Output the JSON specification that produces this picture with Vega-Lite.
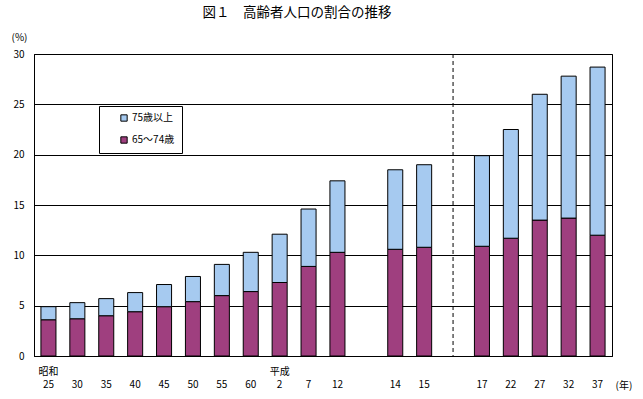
{
  "$schema": "https://vega.github.io/schema/vega-lite/v6.json",
  "width": 578,
  "height": 302,
  "autosize": "none",
  "padding": {"left": 34, "top": 54, "right": 31, "bottom": 43},
  "background": "white",
  "title": {
    "text": "図１　高齢者人口の割合の推移",
    "font": "Noto Sans CJK JP",
    "fontSize": 13.5,
    "fontWeight": "normal",
    "color": "black",
    "anchor": "middle",
    "dx": -26,
    "dy": -9
  },
  "config": {
    "font": "Noto Sans CJK JP",
    "view": {"stroke": "black", "strokeWidth": 1}
  },
  "datasets": {
    "bars": [
      {"year": "25", "group": "65～74歳", "value": 3.6},
      {"year": "25", "group": "75歳以上", "value": 1.3},
      {"year": "30", "group": "65～74歳", "value": 3.7},
      {"year": "30", "group": "75歳以上", "value": 1.6},
      {"year": "35", "group": "65～74歳", "value": 4.0},
      {"year": "35", "group": "75歳以上", "value": 1.7},
      {"year": "40", "group": "65～74歳", "value": 4.4},
      {"year": "40", "group": "75歳以上", "value": 1.9},
      {"year": "45", "group": "65～74歳", "value": 4.9},
      {"year": "45", "group": "75歳以上", "value": 2.2},
      {"year": "50", "group": "65～74歳", "value": 5.4},
      {"year": "50", "group": "75歳以上", "value": 2.5},
      {"year": "55", "group": "65～74歳", "value": 6.0},
      {"year": "55", "group": "75歳以上", "value": 3.1},
      {"year": "60", "group": "65～74歳", "value": 6.4},
      {"year": "60", "group": "75歳以上", "value": 3.9},
      {"year": "2", "group": "65～74歳", "value": 7.3},
      {"year": "2", "group": "75歳以上", "value": 4.8},
      {"year": "7", "group": "65～74歳", "value": 8.9},
      {"year": "7", "group": "75歳以上", "value": 5.7},
      {"year": "12", "group": "65～74歳", "value": 10.3},
      {"year": "12", "group": "75歳以上", "value": 7.1},
      {"year": "14", "group": "65～74歳", "value": 10.6},
      {"year": "14", "group": "75歳以上", "value": 7.9},
      {"year": "15", "group": "65～74歳", "value": 10.8},
      {"year": "15", "group": "75歳以上", "value": 8.2},
      {"year": "17", "group": "65～74歳", "value": 10.9},
      {"year": "17", "group": "75歳以上", "value": 9.0},
      {"year": "22", "group": "65～74歳", "value": 11.7},
      {"year": "22", "group": "75歳以上", "value": 10.8},
      {"year": "27", "group": "65～74歳", "value": 13.5},
      {"year": "27", "group": "75歳以上", "value": 12.5},
      {"year": "32", "group": "65～74歳", "value": 13.7},
      {"year": "32", "group": "75歳以上", "value": 14.1},
      {"year": "37", "group": "65～74歳", "value": 12.0},
      {"year": "37", "group": "75歳以上", "value": 16.7}
    ],
    "divider": [{"year": "gapB"}]
  },
  "layer": [
    {
      "data": {"name": "bars"},
      "mark": {"type": "bar", "stroke": "black", "strokeWidth": 1},
      "encoding": {
        "x": {
          "field": "year",
          "type": "nominal",
          "sort": null,
          "scale": {
            "domain": ["25", "30", "35", "40", "45", "50", "55", "60", "2", "7", "12", "gapA", "14", "15", "gapB", "17", "22", "27", "32", "37"],
            "paddingInner": 0.48,
            "paddingOuter": 0.24
          },
          "axis": {
            "title": "(年)",
            "titleX": 581,
            "titleY": 29,
            "titleAlign": "left",
            "titleBaseline": "middle",
            "titleAngle": 0,
            "titleFontWeight": "normal",
            "titleFontSize": 10,
            "titleColor": "black",
            "labelAngle": 0,
            "labelFontSize": 10,
            "labelColor": "black",
            "labelBaseline": "top",
            "labelLineHeight": 13,
            "labelPadding": 10,
            "labelExpr": "datum.value == '25' ? ['昭和', '25'] : datum.value == '2' ? ['平成', '2'] : slice(datum.value, 0, 3) == 'gap' ? '' : ['', datum.value]",
            "ticks": false,
            "domainColor": "black",
            "grid": false
          }
        },
        "y": {
          "field": "value",
          "type": "quantitative",
          "stack": "zero",
          "scale": {"domain": [0, 30], "nice": false},
          "axis": {
            "title": "(%)",
            "titleAngle": 0,
            "titleX": -23,
            "titleY": -17,
            "titleAlign": "left",
            "titleBaseline": "middle",
            "titleFontWeight": "normal",
            "titleFontSize": 10,
            "titleColor": "black",
            "values": [0, 5, 10, 15, 20, 25, 30],
            "labelFontSize": 10,
            "labelColor": "black",
            "labelPadding": 10,
            "ticks": false,
            "grid": true,
            "gridColor": "black",
            "gridOpacity": 1,
            "gridWidth": 1,
            "domainColor": "black"
          }
        },
        "color": {
          "field": "group",
          "type": "nominal",
          "scale": {"domain": ["75歳以上", "65～74歳"], "range": ["#A6CAF0", "#9F3F7F"]},
          "legend": {
            "title": null,
            "orient": "none",
            "legendX": 65,
            "legendY": 52,
            "fillColor": "white",
            "strokeColor": "black",
            "padding": 7,
            "symbolType": "square",
            "symbolSize": 40,
            "symbolStrokeColor": "black",
            "symbolStrokeWidth": 1,
            "symbolOpacity": 1,
            "symbolOffset": 13,
            "labelOffset": 3,
            "labelFontSize": 10,
            "labelColor": "black",
            "rowPadding": 10
          }
        },
        "order": {"field": "group", "sort": "ascending"}
      }
    },
    {
      "data": {"name": "divider"},
      "mark": {"type": "rule", "color": "black", "strokeWidth": 1, "strokeDash": [4, 3]},
      "encoding": {
        "x": {"field": "year", "type": "nominal"}
      }
    }
  ]
}
